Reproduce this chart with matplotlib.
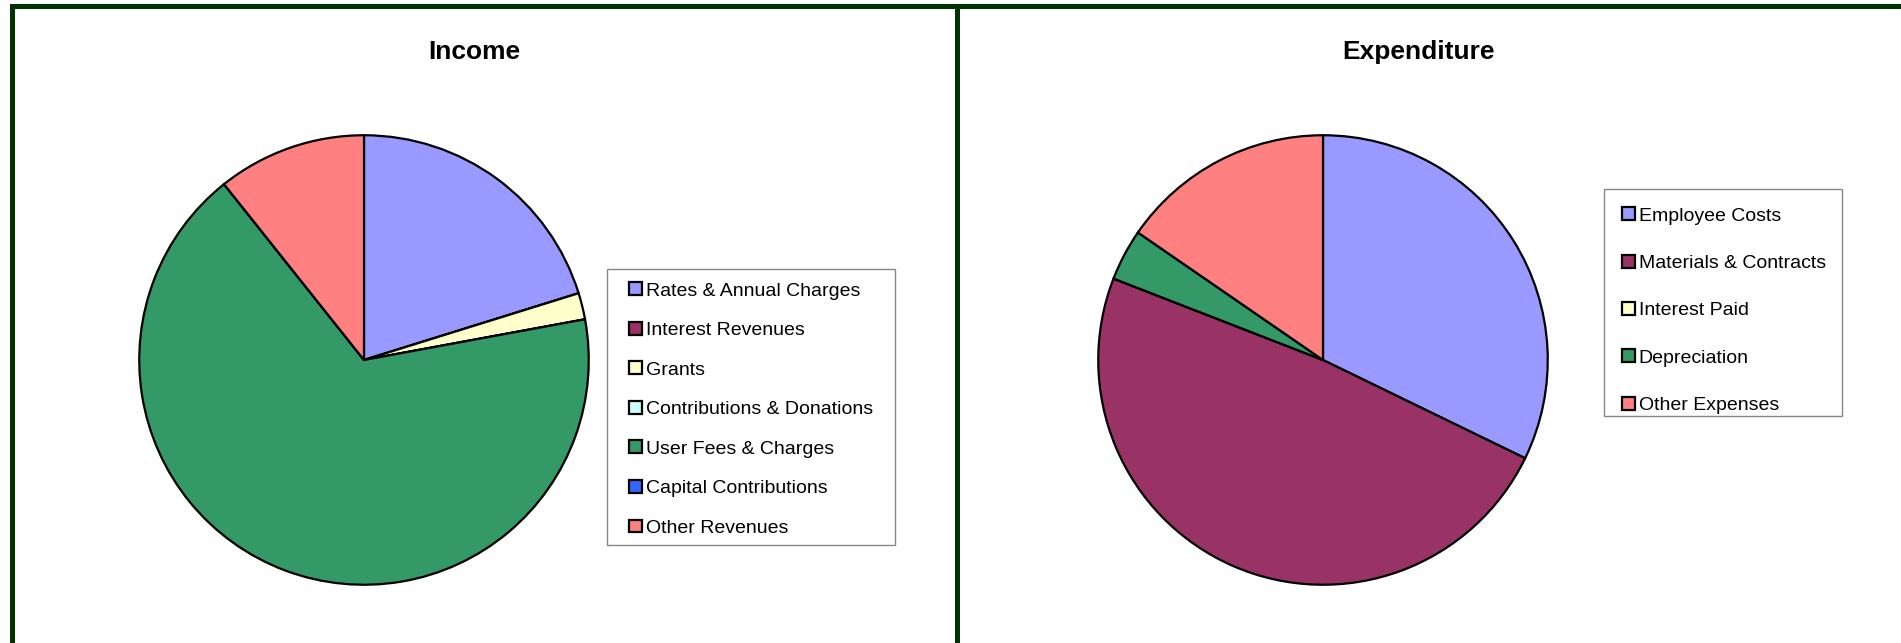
import matplotlib
matplotlib.use('Agg')
import matplotlib.pyplot as plt
from matplotlib.patches import Rectangle

plt.rcParams['font.family'] = ['Liberation Sans', 'DejaVu Sans']

# data (percent of total)
income_labels = ['Rates & Annual Charges', 'Interest Revenues', 'Grants', 'Contributions & Donations',
                 'User Fees & Charges', 'Capital Contributions', 'Other Revenues']
income_values = [20.2, 0.0, 1.9, 0.0, 67.2, 0.0, 10.7]
income_colors = ['#9999FF', '#993366', '#FFFFCC', '#CCFFFF', '#339966', '#3366FF', '#FF8080']

exp_labels = ['Employee Costs', 'Materials & Contracts', 'Interest Paid', 'Depreciation', 'Other Expenses']
exp_values = [32.2, 48.7, 0.0, 3.7, 15.4]
exp_colors = ['#9999FF', '#993366', '#FFFFCC', '#339966', '#FF8080']

W, H = 1901, 643
fig = plt.figure(figsize=(W / 100, H / 100), dpi=100)
fig.patch.set_facecolor('white')


def px_rect(x0, y0, x1, y1):
    # pixel box (top-left origin) -> figure fraction [left, bottom, width, height]
    return [x0 / W, 1 - y1 / H, (x1 - x0) / W, (y1 - y0) / H]


def add_box(x0, y0, x1, y1, **kw):
    l, b, w, h = px_rect(x0, y0, x1, y1)
    fig.patches.append(Rectangle((l, b), w, h, transform=fig.transFigure, **kw))


# dark green panel borders
green = '#003300'
add_box(10, 4, W + 10, 9, color=green, lw=0)
add_box(10, 4, 15, H + 10, color=green, lw=0)
add_box(955, 4, 960, H + 10, color=green, lw=0)


def draw_pie(cx, cy, r, values, colors, labels, title, tx, leg_box, leg_first, spacing):
    ax = fig.add_axes(px_rect(cx - r, cy - r, cx + r, cy + r))
    wedges, _ = ax.pie(values, colors=colors, startangle=90, counterclock=False, radius=1,
                       wedgeprops=dict(edgecolor='black', linewidth=1.6))
    ax.set_xlim(-1.01, 1.01)
    ax.set_ylim(-1.01, 1.01)
    ax.set_aspect('equal')
    ax.axis('off')

    fig.text(tx / W, 1 - 52 / H, title, ha='center', va='center', fontsize=19, fontweight='bold')

    # legend frame
    add_box(*leg_box, facecolor='white', edgecolor='#888888', lw=1)
    fs = 14
    fs_px = fs * 100 / 72
    row_h = 17.2
    lx, ly = leg_first
    fig.legend(wedges, labels, loc='upper left', frameon=False, fontsize=fs,
               bbox_to_anchor=(lx / W, 1 - (ly + 3 - row_h / 2) / H),
               borderpad=0, borderaxespad=0, handlelength=0.65, handleheight=0.65,
               handletextpad=0.2, labelspacing=(spacing - row_h) / fs_px)
    return ax


draw_pie(364, 360, 227, income_values, income_colors, income_labels, 'Income', 474,
         (607, 269, 895, 545), (629, 288), 39.4)
draw_pie(1323, 360, 227, exp_values, exp_colors, exp_labels, 'Expenditure', 1418,
         (1604, 189, 1842, 416), (1622, 213), 47.2)

fig.savefig('out.png', dpi=100)
